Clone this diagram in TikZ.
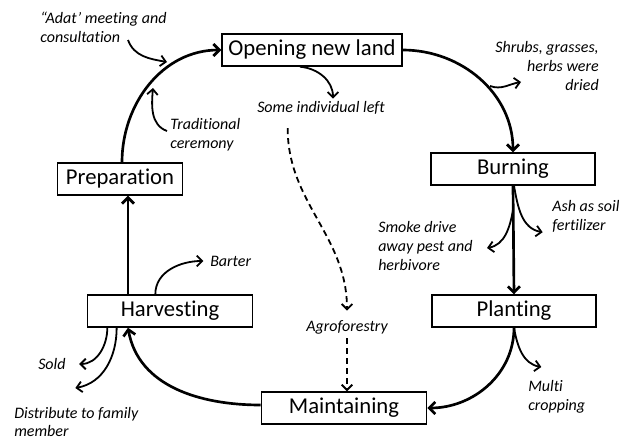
\documentclass[tikz,border=0pt]{standalone}
\usepackage{fontspec}
\setmainfont{Carlito}[Ligatures=NoCommon, ItalicFont={Carlito Italic}]
\usetikzlibrary{arrows.meta}
\tikzstyle{stage} = [
  draw,
  line width=1.1pt,
  minimum height=24pt,
  inner sep=0pt,
  font=\fontsize{17}{20}\selectfont,
]
\tikzstyle{cycle} = [line width=2pt, -{Straight Barb[length=4.5pt,width=9pt]}]
\tikzstyle{side} = [line width=1.35pt, -{Straight Barb[length=4pt,width=8pt]}]
\tikzstyle{note} = [
  inner sep=0pt,
  align=left,
  font=\fontsize{12}{14.2}\selectfont\itshape,
]
\begin{document}
\begin{tikzpicture}[x=0.75pt, y=-0.75pt]
            \useasboundingbox (0,0) rectangle (619,439);

            % Stages
            \node[stage, minimum width=135pt] (open) at (312,50) {Opening new land};
            \node[stage, minimum width=123pt] (burn) at (513,169) {Burning};
            \node[stage, minimum width=123pt] (plant) at (514,311) {Planting};
            \node[stage, minimum width=124pt] (maint) at (344,408) {Maintaining};
            \node[stage, minimum width=124pt] (harv) at (170,311) {Harvesting};
            \node[stage, minimum width=94pt] (prep) at (120,179) {Preparation};

            % Cycle
            \draw[cycle] ([xshift=1.5pt]prep.north) to[out=90, in=180] (open.west);
            \draw[cycle] (open.east) to[out=0, in=90] (burn.north);
            \draw[cycle] (burn.south) -- (plant.north);
            \draw[cycle] (plant.south) to[out=-90, in=0] (maint.east);
            \draw[cycle] ([yshift=2.25pt]maint.west) to[out=180, in=-80] ([xshift=-31.5pt]harv.south);
            \draw[cycle] ([xshift=-31.5pt]harv.north) -- ([xshift=-31.5pt]harv.north |- prep.south);

            % Notes
            \node[note, anchor=west] (adat) at (40,27) {“Adat’ meeting and\\consultation};
            \node[note, anchor=west] (trad) at (170,135) {Traditional\\ceremony};
            \node[note] (left) at (321,108) {Some individual left};
            \node[note] (agro) at (347,327) {Agroforestry};
            \node[note, anchor=east, align=right] (dried) at (599,66) {Shrubs, grasses,\\herbs were\\dried};
            \node[note, anchor=west] (ash) at (552,216) {Ash as soil\\fertilizer};
            \node[note, anchor=west] (smoke) at (378,246) {Smoke drive\\away pest and\\herbivore};
            \node[note, anchor=west] (multi) at (528,397) {Multi\\cropping};
            \node[note, anchor=west] (barter) at (210,261) {Barter};
            \node[note, anchor=west] (sold) at (38,364) {Sold};
            \node[note, anchor=west] (dist) at (14,422) {Distribute to family\\member};

            % Side arrows
            \coordinate (adatfrom) at (128,40);
            \coordinate (adatto) at (167,62);
            \coordinate (tradfrom) at (167,131);
            \coordinate (tradto) at (153,88);
            \coordinate (driedfrom) at (490,86);
            \coordinate (driedto) at (521,82);
            \coordinate (smokefrom) at (513,210);
            \coordinate (smoketo) at (487,248);
            \draw[side] (adatfrom) to[out=-70, in=170] (adatto);
            \draw[side] (tradfrom) to[out=160, in=-95] (tradto);
            \draw[side] ([xshift=-9pt]open.south) to[out=-5, in=90] ([xshift=9pt,yshift=2pt]left.north);
            \draw[side] (driedfrom) to[out=-20, in=190] (driedto);
            \draw[side] ([xshift=0.75pt]burn.south) to[out=-80, in=170] ([xshift=-7pt]ash.south west);
            \draw[side] (smokefrom) to[out=-100, in=10] (smoketo);
            \draw[side] (plant.south) to[out=-80, in=170] ([xshift=10pt,yshift=10pt]multi.north west);
            \draw[side] ([xshift=-11pt]harv.north) to[out=90, in=180] ([xshift=-5pt]barter.west);
            \draw[side] ([xshift=-47pt]harv.south) to[out=-90, in=0] ([xshift=10pt]sold.east);
            \draw[side] ([xshift=-40pt]harv.south) to[out=-90, in=10] ([xshift=46pt,yshift=14pt]dist.north west);

            % Agroforestry
            \draw[side, dashed, dash pattern=on 4.5pt off 3pt] ([xshift=-25pt,yshift=-10pt]left.south) to[out=-90, in=90] ([yshift=7pt]agro.north);
            \draw[side, dashed, dash pattern=on 4.5pt off 3pt] ([yshift=-3pt]agro.south) -- (agro.south |- maint.north);
          \end{tikzpicture}
\end{document}
